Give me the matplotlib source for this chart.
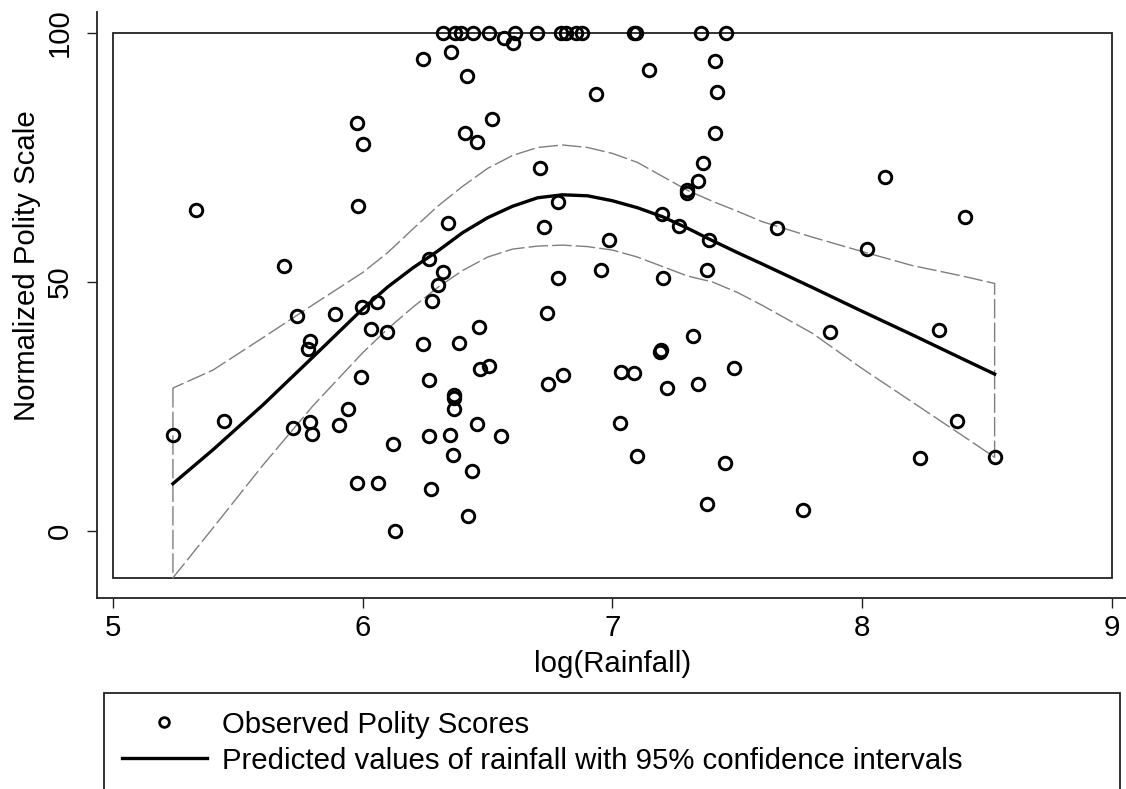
import matplotlib
matplotlib.use("Agg")
import matplotlib.pyplot as plt
from matplotlib.patches import Rectangle
from matplotlib.lines import Line2D

plt.rcParams['font.family'] = ['Liberation Sans', 'DejaVu Sans']

# observed polity scores (log rainfall, normalized polity)
log_rain = [
    6.320, 6.369, 6.392, 6.443, 6.506, 6.610, 6.696, 6.793, 6.813, 6.853, 6.877, 7.087, 7.094, 7.354, 7.453,
    6.566, 6.603, 6.353, 6.243, 6.416, 6.932, 7.147, 7.411, 7.417, 7.411,
    6.516, 6.409, 6.459, 5.976, 6.002,
    6.709, 7.361, 7.344, 7.300, 7.300, 8.091,
    6.782, 5.332, 5.980, 6.340, 6.726, 7.197, 7.268, 8.411, 7.657,
    6.987, 7.386, 8.018,
    5.685, 6.265, 6.323, 6.303, 6.276, 6.056, 5.996,
    6.952, 7.377, 6.782, 7.204,
    5.735, 5.889, 6.736,
    5.790, 5.782, 6.032, 6.098, 6.243, 6.464, 6.387, 7.871, 8.309, 7.321,
    5.992, 6.265, 6.507, 6.470, 6.741, 6.800, 7.036, 7.086, 7.190, 7.195, 7.488, 7.218, 7.341,
    6.365, 6.367, 6.365,
    5.446, 5.239, 5.719, 5.790, 5.797, 5.905, 5.940, 6.120, 6.264, 6.456, 6.351, 6.555, 7.030, 8.378,
    6.363, 6.439, 7.097, 7.451, 8.231, 8.532,
    5.978, 6.060, 6.273, 6.421, 7.380, 7.764, 6.128,
]
polity = [
    100, 100, 100, 100, 100, 100, 100, 100, 100, 100, 100, 100, 100, 100, 100,
    99.0, 97.9, 96.2, 94.7, 91.4, 87.8, 92.6, 94.4, 88.2, 79.9,
    82.7, 79.9, 78.1, 82.0, 77.7,
    72.8, 73.8, 70.3, 68.5, 67.9, 71.1,
    66.1, 64.4, 65.3, 61.9, 61.1, 63.7, 61.2, 63.1, 60.8,
    58.4, 58.4, 56.6,
    53.2, 54.6, 52.1, 49.4, 46.2, 46.0, 45.0,
    52.4, 52.4, 50.7, 50.7,
    43.2, 43.6, 43.8,
    38.2, 36.5, 40.5, 40.0, 37.5, 41.0, 37.7, 40.0, 40.4, 39.2,
    30.9, 30.3, 33.2, 32.5, 29.6, 31.3, 32.0, 31.7, 36.0, 36.3, 32.8, 28.7, 29.5,
    26.8, 27.3, 24.5,
    22.1, 19.3, 20.6, 21.8, 19.4, 21.3, 24.4, 17.5, 19.1, 21.4, 19.3, 19.1, 21.6, 22.1,
    15.2, 12.0, 15.1, 13.6, 14.6, 14.9,
    9.6, 9.6, 8.4, 3.1, 5.4, 4.2, 0.06,
]

# predicted values with 95% confidence interval
rain_grid = [5.24, 5.4, 5.6, 5.8, 6.0, 6.1, 6.2, 6.3, 6.4, 6.5, 6.6, 6.7, 6.8, 6.9, 7.0,
             7.1, 7.2, 7.3, 7.4, 7.5, 7.6, 7.8, 8.0, 8.2, 8.4, 8.53]
pred = [9.5, 16.3, 25.3, 34.9, 44.6, 49.0, 52.8, 56.2, 59.9, 62.9, 65.2, 66.9, 67.5, 67.3, 66.3,
        64.9, 63.1, 60.8, 58.3, 55.9, 53.6, 48.9, 44.1, 39.4, 34.6, 31.5]
ci_hi = [28.7, 32.3, 38.8, 45.4, 51.9, 55.9, 60.6, 65.2, 69.2, 72.8, 75.4, 77.0, 77.5, 77.0, 75.8,
         74.0, 71.2, 68.4, 66.2, 64.2, 62.1, 59.0, 56.1, 53.3, 51.2, 49.7]
ci_lo = [-9.4, 0.6, 13.2, 25.1, 35.8, 40.6, 44.9, 48.9, 52.3, 55.0, 56.6, 57.2, 57.4, 57.1, 56.4,
         55.0, 53.1, 51.2, 50.0, 47.9, 45.3, 39.7, 32.6, 25.9, 19.2, 14.8]

x_ticks = [5, 6, 7, 8, 9]
y_ticks = [0, 50, 100]

FS = 21.2

fig = plt.figure(figsize=(11.26, 7.89), dpi=100)
ax = fig.add_axes([97 / 1126, 1 - 598 / 789, 1029 / 1126, 586 / 789])

# confidence band outline (dashed gray)
ax.fill_between(rain_grid, ci_lo, ci_hi, facecolor='none', edgecolor='#7f7f7f',
                linewidth=1.0, linestyle=(0, (14, 3)), zorder=2)
ax.plot(rain_grid, pred, color='black', linewidth=2.4, zorder=3)
ax.plot(log_rain, polity, linestyle='none', marker='o', markersize=9,
        markerfacecolor='none', markeredgecolor='black', markeredgewidth=2.1, zorder=4)

# inner plot region box spanning the data range
box_bottom = min(ci_lo)
ax.add_patch(Rectangle((x_ticks[0], box_bottom), x_ticks[-1] - x_ticks[0], max(polity) - box_bottom,
                       fill=False, edgecolor='#222222', linewidth=1.3, zorder=1))

ax.set_xlim(4.936, 9.056)
ax.set_ylim(-13.45, 104.2)
ax.set_xticks(x_ticks)
ax.set_yticks(y_ticks)
ax.tick_params(axis='both', direction='out', length=7.5, width=1, labelsize=FS, color='#222222')
ax.tick_params(axis='x', pad=4)
ax.tick_params(axis='y', pad=9)
for lab in ax.get_yticklabels():
    lab.set_rotation(90)
    lab.set_va('center')

for s in ['top', 'right']:
    ax.spines[s].set_visible(False)
for s in ['left', 'bottom']:
    ax.spines[s].set_linewidth(1.3)
    ax.spines[s].set_color('#222222')

ax.set_xlabel('log(Rainfall)', fontsize=FS)
ax.xaxis.set_label_coords((612.5 - 97) / 1029, -(664 - 598) / 586)
ax.xaxis.label.set_va('center')
ax.set_ylabel('Normalized Polity Scale', fontsize=FS)
ax.yaxis.set_label_coords(-(97 - 27) / 1029, (598 - 266) / 586)
ax.yaxis.label.set_va('center')

handles = [
    Line2D([], [], linestyle='none', marker='o', markersize=7, markerfacecolor='none',
           markeredgecolor='black', markeredgewidth=2),
    Line2D([], [], color='black', linewidth=2.4),
]
labels = ['Observed Polity Scores', 'Predicted values of rainfall with 95% confidence intervals']
leg = fig.legend(handles, labels, loc='upper left',
                 bbox_to_anchor=(104 / 1126, 1 - 693 / 789, (1120 - 104) / 1126, 0.0),
                 mode='expand', fontsize=FS, frameon=True, fancybox=False,
                 edgecolor='#222222', framealpha=1, borderaxespad=0, borderpad=0.6,
                 labelspacing=0.27, handlelength=2.9, handletextpad=0.5, numpoints=1)
leg.get_frame().set_linewidth(1.3)

fig.savefig('out.png', dpi=100)
